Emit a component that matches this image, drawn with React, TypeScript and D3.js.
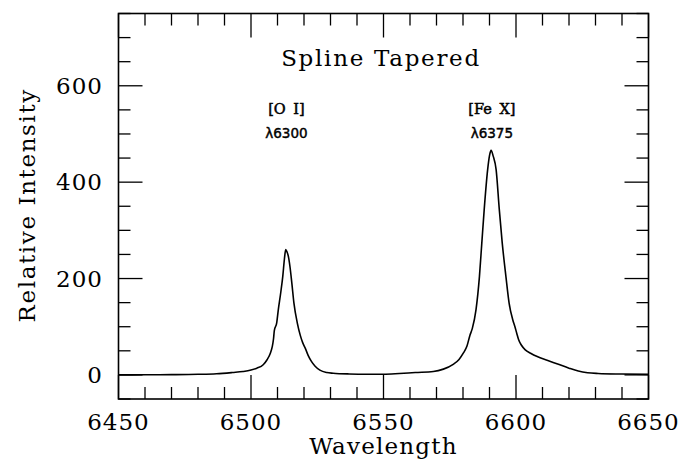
import React from "react";
import * as d3 from "d3";

const wavelength = [
  6450, 6460, 6470, 6480, 6487, 6493, 6497, 6500, 6502.2, 6504.6, 6506, 6507.3, 6508, 6508.5, 6508.8,
  6509.7, 6510.3, 6511.2, 6512, 6512.6, 6513.1, 6513.6, 6514.1, 6514.7, 6515.4, 6516.2, 6517.5, 6518.6,
  6519.5, 6520.5, 6521.6, 6522.8, 6524.2, 6526, 6528.6, 6531, 6537, 6544, 6550, 6556, 6562, 6568.8,
  6572.6, 6576.3, 6578.5, 6580.1, 6581.5, 6582.6, 6583.5, 6584.9, 6586.2, 6587.1, 6588.0, 6589.3, 6590,
  6590.6, 6591.4, 6592.5, 6593.7, 6594.8, 6596.2, 6597.4, 6598.8, 6599.6, 6600.3, 6601, 6602, 6603.5,
  6605.5, 6608, 6612, 6616, 6620, 6623.5, 6627, 6631, 6640, 6650,
];
const intensity = [
  0, 0.3, 0.6, 1.3, 2.5, 5, 7, 10, 14, 21, 31, 45, 58, 75, 92,
  108, 135, 170, 205, 240, 260, 255, 246, 225, 191, 149, 107, 82,
  67, 55, 40, 28, 18, 10, 5, 3.5, 2, 1.5, 1.5, 3, 5, 7,
  12, 22, 32, 45, 60, 82, 96, 135, 204, 274, 343, 426, 455,
  466, 454, 426, 343, 274, 204, 149, 114, 100, 86, 73, 62, 52,
  45, 38, 30, 22, 14, 8, 4.5, 3, 1.8, 1,
];

const xMajorTicks = [6450, 6500, 6550, 6600, 6650];
const yMajorTicks = [0, 200, 400, 600];
const lineLabels = [
  { name: "[O I]", lambda: "λ6300", at: 6513 },
  { name: "[Fe X]", lambda: "λ6375", at: 6590.5 },
];
const title = "Spline Tapered";
const xTitle = "Wavelength";
const yTitle = "Relative Intensity";

const W = 689;
const H = 460;
const L = 118.5, R = 648.5, T = 13.5, B = 399;

export default function App() {
  const x = d3.scaleLinear().domain([6450, 6650]).range([L, R]);
  const y = d3.scaleLinear().domain([-50, 750]).range([B, T]);
  const xMinor = d3.range(6450, 6651, 10);
  const yMinor = d3.range(-50, 751, 50);
  const pts = wavelength.map((w, i) => [w, intensity[i]] as [number, number]);
  const line = d3
    .line<[number, number]>()
    .x((d) => x(d[0]))
    .y((d) => y(d[1]))
    .curve(d3.curveMonotoneX);
  const serif = "'DejaVu Serif', serif";
  const major = 24, minor = 12;
  return (
    <svg width={W} height={H} style={{ position: "absolute", left: 0, top: 0, background: "#fff" }}>
      <rect x={0} y={0} width={W} height={H} fill="#fff" />
      <g stroke="#000" strokeWidth={1.3}>
        {xMinor.map((v) => {
          const len = v % 50 === 0 ? major : minor;
          return (
            <g key={"x" + v}>
              <line x1={x(v)} x2={x(v)} y1={B} y2={B - len} />
              <line x1={x(v)} x2={x(v)} y1={T} y2={T + len} />
            </g>
          );
        })}
        {yMinor.map((v) => {
          const len = v % 200 === 0 ? major : minor;
          return (
            <g key={"y" + v}>
              <line x1={L} x2={L + len} y1={y(v)} y2={y(v)} />
              <line x1={R} x2={R - len} y1={y(v)} y2={y(v)} />
            </g>
          );
        })}
      </g>
      <rect x={L} y={T} width={R - L} height={B - T} fill="none" stroke="#000" strokeWidth={1.6} />
      <path d={line(pts) || ""} fill="none" stroke="#000" strokeWidth={1.6} />
      <g fontFamily={serif} fontSize={23} fill="#000">
        {xMajorTicks.map((v) => (
          <text key={v} x={x(v)} y={430} textAnchor="middle" letterSpacing={1}>
            {v}
          </text>
        ))}
        {yMajorTicks.map((v) => (
          <text key={v} x={103} y={y(v)} textAnchor="end" dominantBaseline="central" letterSpacing={1}>
            {v}
          </text>
        ))}
        <text x={(L + R) / 2} y={454} textAnchor="middle" letterSpacing={1.2}>
          {xTitle}
        </text>
        <text
          transform={`translate(35,${(T + B) / 2 - 1}) rotate(-90)`}
          textAnchor="middle"
          letterSpacing={1.6}
        >
          {yTitle}
        </text>
        <text x={381} y={66} textAnchor="middle" letterSpacing={1.7}>
          {title}
        </text>
      </g>
      {lineLabels.map((l) => (
        <g key={l.name}>
          <text
            x={x(l.at) + 1}
            y={114}
            textAnchor="middle"
            fontFamily="'DejaVu Serif', serif"
            fontSize={14.5}
            stroke="#000"
            strokeWidth={0.5}
            wordSpacing={3}
          >
            {l.name}
          </text>
          <text
            x={x(l.at) + 1}
            y={138}
            textAnchor="middle"
            fontFamily="'DejaVu Sans', sans-serif"
            fontSize={13.5}
            stroke="#000"
            strokeWidth={0.45}
          >
            {l.lambda}
          </text>
        </g>
      ))}
    </svg>
  );
}
